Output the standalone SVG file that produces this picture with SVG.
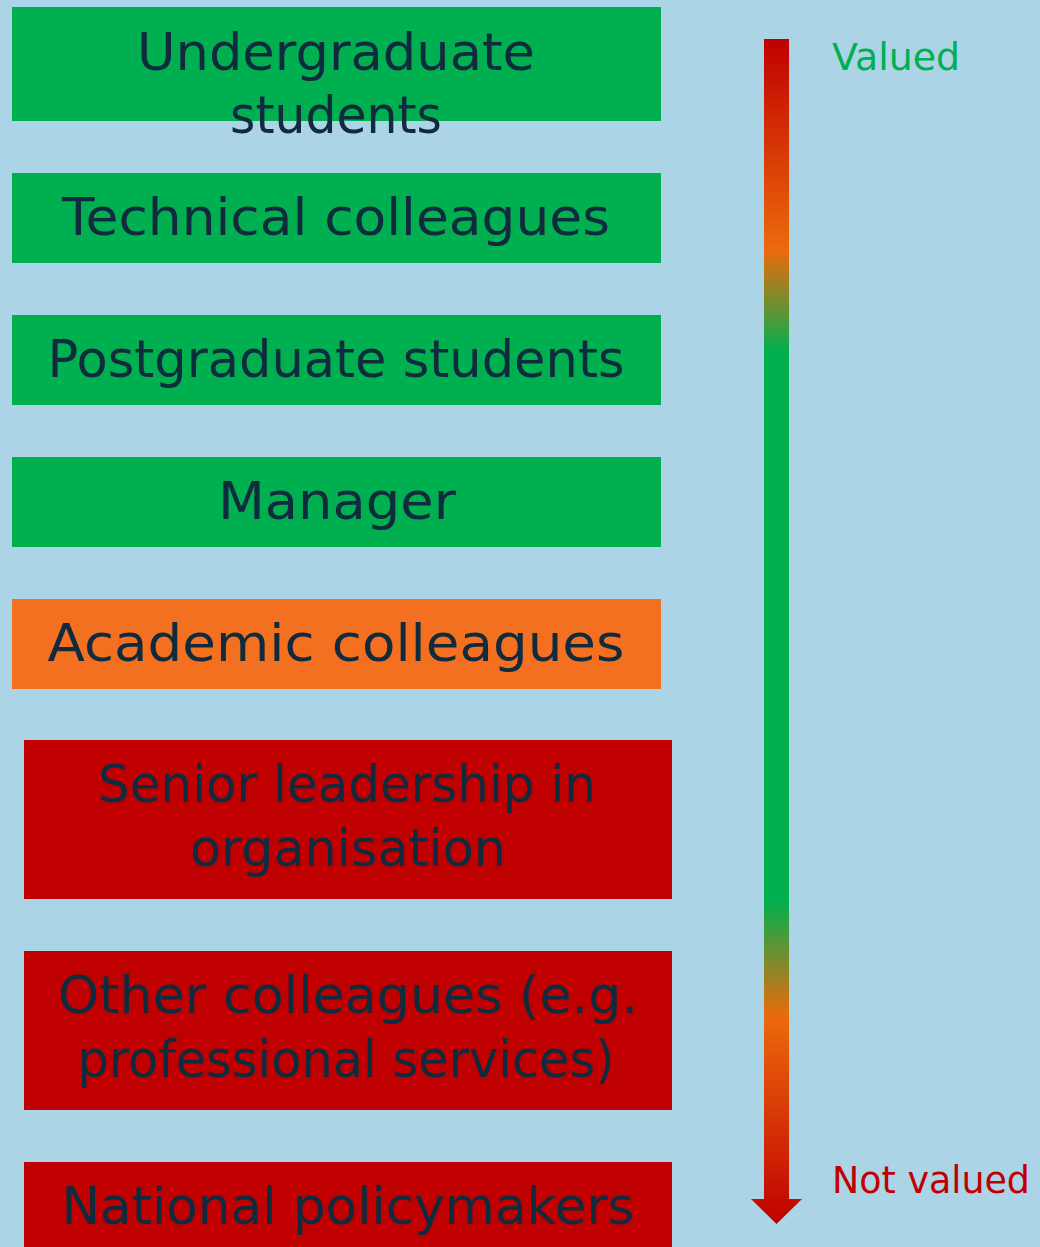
<svg xmlns="http://www.w3.org/2000/svg" width="1040" height="1247" viewBox="0 0 1040 1247">
  <defs>
    <style>
      .box-green { fill: #00b050; }
      .box-orange { fill: #f37021; }
      .box-red { fill: #c00000; }
      .label { font-family: "DejaVu Sans", "Liberation Sans", sans-serif; font-size: 52px; fill: #0f2b3d; text-anchor: middle; }
      .scale { font-family: "DejaVu Sans", "Liberation Sans", sans-serif; font-size: 37px; }
    </style>
    <linearGradient id="valueScale" x1="0" y1="39" x2="0" y2="1224" gradientUnits="userSpaceOnUse">
      <stop offset="0" stop-color="#c00000"/>
      <stop offset="0.178" stop-color="#ec6a0b"/>
      <stop offset="0.265" stop-color="#00b050"/>
      <stop offset="0.727" stop-color="#00b050"/>
      <stop offset="0.825" stop-color="#ec6a0b"/>
      <stop offset="1" stop-color="#c00000"/>
    </linearGradient>
  </defs>

  <rect x="0" y="0" width="1040" height="1247" fill="#abd5e6"/>

  <g id="undergraduate">
    <rect class="box-green" x="12" y="7" width="649" height="114"/>
    <text class="label" x="336" y="70" textLength="398" lengthAdjust="spacingAndGlyphs">Undergraduate</text>
    <text class="label" x="336" y="133" textLength="212" lengthAdjust="spacingAndGlyphs">students</text>
  </g>

  <g id="technical">
    <rect class="box-green" x="12" y="173" width="649" height="90"/>
    <text class="label" x="336" y="235" textLength="548" lengthAdjust="spacingAndGlyphs">Technical colleagues</text>
  </g>

  <g id="postgraduate">
    <rect class="box-green" x="12" y="315" width="649" height="90"/>
    <text class="label" x="336" y="377" textLength="577" lengthAdjust="spacingAndGlyphs">Postgraduate students</text>
  </g>

  <g id="manager">
    <rect class="box-green" x="12" y="457" width="649" height="90"/>
    <text class="label" x="337" y="519" textLength="238" lengthAdjust="spacingAndGlyphs">Manager</text>
  </g>

  <g id="academic">
    <rect class="box-orange" x="12" y="599" width="649" height="90"/>
    <text class="label" x="336" y="661" textLength="577" lengthAdjust="spacingAndGlyphs">Academic colleagues</text>
  </g>

  <g id="senior-leadership">
    <rect class="box-red" x="24" y="740" width="648" height="159"/>
    <text class="label" x="347" y="802" textLength="498" lengthAdjust="spacingAndGlyphs">Senior leadership in</text>
    <text class="label" x="348" y="866" textLength="316" lengthAdjust="spacingAndGlyphs">organisation</text>
  </g>

  <g id="other-colleagues">
    <rect class="box-red" x="24" y="951" width="648" height="159"/>
    <text class="label" x="348" y="1013" textLength="580" lengthAdjust="spacingAndGlyphs">Other colleagues (e.g.</text>
    <text class="label" x="346" y="1077" textLength="537" lengthAdjust="spacingAndGlyphs">professional services)</text>
  </g>

  <g id="national-policymakers">
    <rect class="box-red" x="24" y="1162" width="648" height="90"/>
    <text class="label" x="348" y="1224" textLength="573" lengthAdjust="spacingAndGlyphs">National policymakers</text>
  </g>

  <g id="connectors">
    <path d="M764 39 H789 V1199 H802 L776.5 1224 L751 1199 H764 Z" fill="url(#valueScale)"/>
  </g>

  <g id="scale-labels">
    <text class="scale" x="832" y="70" fill="#00b050" textLength="128" lengthAdjust="spacingAndGlyphs">Valued</text>
    <text class="scale" x="832" y="1193" fill="#c00000" textLength="198" lengthAdjust="spacingAndGlyphs">Not valued</text>
  </g>
</svg>
